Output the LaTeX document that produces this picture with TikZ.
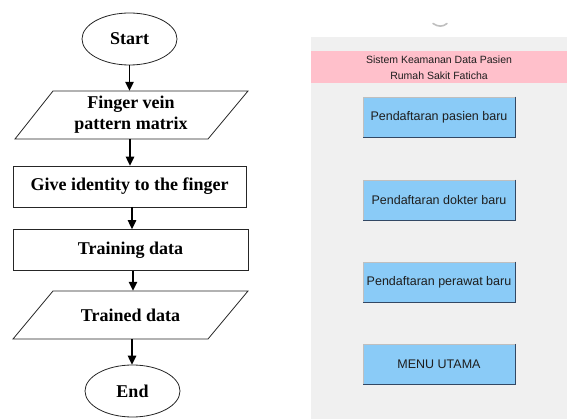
\documentclass[tikz,border=0pt]{standalone}
\usepackage{fontspec}
\setmainfont{Liberation Serif}
\newfontfamily\uifont{Liberation Sans}
\usetikzlibrary{shapes.geometric,arrows.meta}
\definecolor{panelgray}{RGB}{240,240,240}
\definecolor{bandpink}{RGB}{255,192,203}
\definecolor{btnblue}{RGB}{138,203,247}
\definecolor{btnedge}{RGB}{50,72,100}
\definecolor{uitext}{RGB}{30,30,30}
\tikzset{
  flowline/.style={draw=black!85, line width=0.8pt},
  flowtext/.style={font=\fontsize{18}{21}\selectfont\bfseries, align=center, inner sep=0pt},
  terminal/.style={flowline, ellipse, flowtext, minimum width=95pt, minimum height=52pt},
  procbox/.style={flowline, rectangle, flowtext, minimum height=41pt},
  iotext/.style={flowtext, minimum width=195pt, minimum height=48pt},
  flowarrow/.style={line width=1.4pt, -{Triangle[length=9pt,width=8.5pt]}},
  btn/.style={fill=btnblue, draw=black!25, line width=0.5pt, minimum width=152pt, minimum height=40pt, inner sep=0pt, text=uitext, font=\uifont\fontsize{12.5}{14}\selectfont},
  btnshadow/.style={draw=btnedge, line width=1.2pt},
  bandtext/.style={text=uitext, font=\uifont\fontsize{10.5}{16}\selectfont, align=center, inner sep=0pt}
}
\begin{document}
\begin{tikzpicture}[x=1pt,y=-1pt]
\useasboundingbox (0,0) rectangle (567,419);
% ---------- flowchart ----------
\node[terminal] (start) at (129.5,39) {Start};
\draw[flowline] (53,91) -- (248,91) -- (208,139) -- (15,139) -- cycle;
\node[iotext] (fv) at (131,115) {Finger vein\\pattern matrix};
\node[procbox, minimum width=233pt] (gi) at (129.5,186.5) {Give identity to the finger};
\node[procbox, minimum width=235pt] (td) at (130.5,250) {Training data};
\draw[flowline] (53,291) -- (248,291) -- (208,339) -- (13,339) -- cycle;
\node[iotext] (trd) at (130.5,315) {Trained data};
\node[terminal] (end) at (132.5,391) {End};
\draw[flowarrow] (start.south) -- (start.south |- fv.north);
\draw[flowarrow] (130,139) coordinate (a1) -- (a1 |- gi.north);
\draw[flowarrow] (132,207) coordinate (a2) -- (a2 |- td.north);
\draw[flowarrow] (133,271) coordinate (a3) -- (a3 |- trd.north);
\draw[flowarrow] (132,339) coordinate (a4) -- (a4 |- end.north);
% ---------- UI panel ----------
\fill[panelgray] (311,37) rectangle (567,419);
\fill[bandpink] (311,51) rectangle (567,83);
\node[bandtext] (title) at (439,67.5) {Sistem Keamanan Data Pasien\\Rumah Sakit Faticha};
\draw[black!25, line width=1.6pt, line cap=round] (433,23.5) .. controls (438,27) and (443,27) .. (447,23.5);
\node[btn] (b1) at (439,117) {Pendaftaran pasien baru};
\node[btn] (b2) at (439,200) {Pendaftaran dokter baru};
\node[btn] (b3) at (439,282) {Pendaftaran perawat baru};
\node[btn] (b4) at (439,364) {MENU UTAMA};
\foreach \b in {b1,b2,b3,b4}{
  \draw[btnshadow] (\b.north east) -- (\b.south east) -- (\b.south west);
}
\end{tikzpicture}
\end{document}
